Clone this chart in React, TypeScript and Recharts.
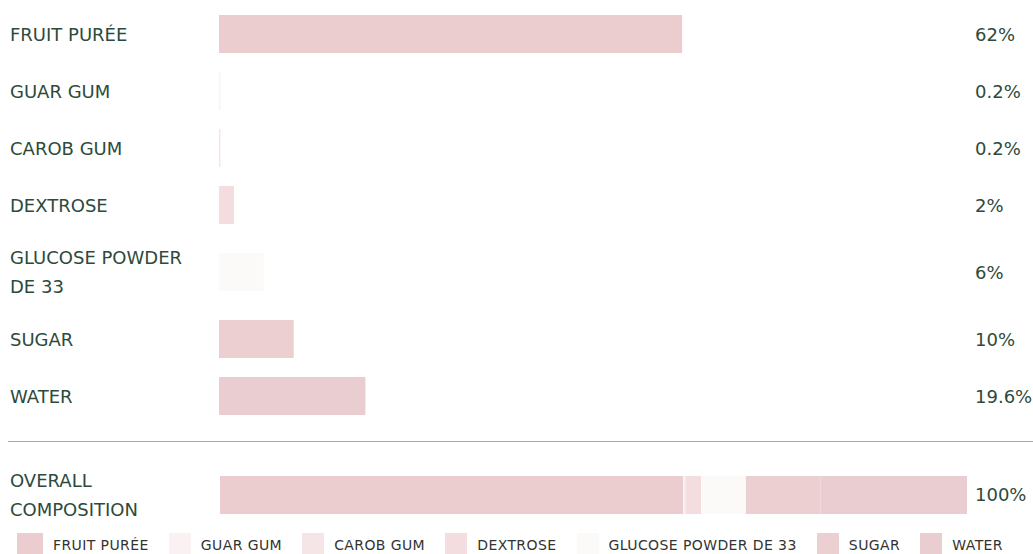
import { BarChart, Bar, XAxis, YAxis, Cell } from 'recharts'

const ingredients = ['FRUIT PURÉE', 'GUAR GUM', 'CAROB GUM', 'DEXTROSE', 'GLUCOSE POWDER DE 33', 'SUGAR', 'WATER']
const percents = [62, 0.2, 0.2, 2, 6, 10, 19.6]
const colors = ['#ebcdd0', '#faf1f2', '#f6e5e6', '#f3dddf', '#fcfaf9', '#ebcfd1', '#eacdd0']
const overallLabel = 'OVERALL COMPOSITION'
const overallTotal = 100

const TEXT = '#2d4a3b'
const FONT = '"DejaVu Sans", Verdana, sans-serif'
const BAR_W = 747
const BAR_H = 38

function RowBar({ value, color }: { value: number; color: string }) {
  const data = [{ name: 'v', value }]
  return (
    <BarChart width={BAR_W} height={BAR_H} data={data} layout="vertical" margin={{ top: 0, right: 0, bottom: 0, left: 0 }} barCategoryGap={0}>
      <XAxis type="number" domain={[0, 100]} hide />
      <YAxis type="category" dataKey="name" hide />
      <Bar dataKey="value" isAnimationActive={false}>
        <Cell fill={color} />
      </Bar>
    </BarChart>
  )
}

function OverallBar() {
  const row: Record<string, number | string> = { name: 'overall' }
  ingredients.forEach((n, i) => { row[n] = percents[i] })
  return (
    <BarChart width={BAR_W} height={BAR_H} data={[row]} layout="vertical" margin={{ top: 0, right: 0, bottom: 0, left: 0 }} barCategoryGap={0}>
      <XAxis type="number" domain={[0, 100]} hide />
      <YAxis type="category" dataKey="name" hide />
      {ingredients.map((n, i) => (
        <Bar key={n} dataKey={n} stackId="a" fill={colors[i]} isAnimationActive={false} />
      ))}
    </BarChart>
  )
}

function Row({ label, overall, pct, children }: { label: string; overall?: boolean; pct: string; children: React.ReactNode }) {
  return (
    <div style={{ display: 'flex', alignItems: 'center', padding: '9.5px 0' }}>
      <div style={{ width: 219, paddingLeft: 10, paddingRight: 10, boxSizing: 'border-box', flex: 'none', lineHeight: '29px' }}>{label}</div>
      <div style={{ width: BAR_W, flex: 'none', height: BAR_H, marginLeft: overall ? 1 : 0 }}>{children}</div>
      <div style={{ marginLeft: overall ? 8 : 9 }}>{pct}</div>
    </div>
  )
}

export default function App() {
  return (
    <div style={{ position: 'absolute', left: 0, top: 0, width: 1033, height: 554, overflow: 'hidden', background: '#fff', fontFamily: FONT, fontSize: 18, color: TEXT }}>
      <div style={{ paddingTop: 5.5 }}>
        {ingredients.map((n, i) => (
          <Row key={n} label={n} pct={`${percents[i]}%`}>
            <RowBar value={percents[i]} color={colors[i]} />
          </Row>
        ))}
      </div>
      <div style={{ marginLeft: 8, marginTop: 16, height: 1, background: '#a3aca5' }} />
      <div style={{ marginTop: 14.5 }}>
        <Row label={overallLabel} overall pct={`${overallTotal}%`}>
          <OverallBar />
        </Row>
      </div>
      <div style={{ display: 'flex', justifyContent: 'space-between', padding: '0 30px 0 17px', fontSize: 14, letterSpacing: 0.4, color: '#333' }}>
        {ingredients.map((n, i) => (
          <div key={n} style={{ display: 'flex', alignItems: 'center', lineHeight: '22px' }}>
            <div style={{ width: i === 0 ? 26 : 22, height: 24, background: colors[i], marginRight: 10 }} />
            <span>{n}</span>
          </div>
        ))}
      </div>
    </div>
  )
}
